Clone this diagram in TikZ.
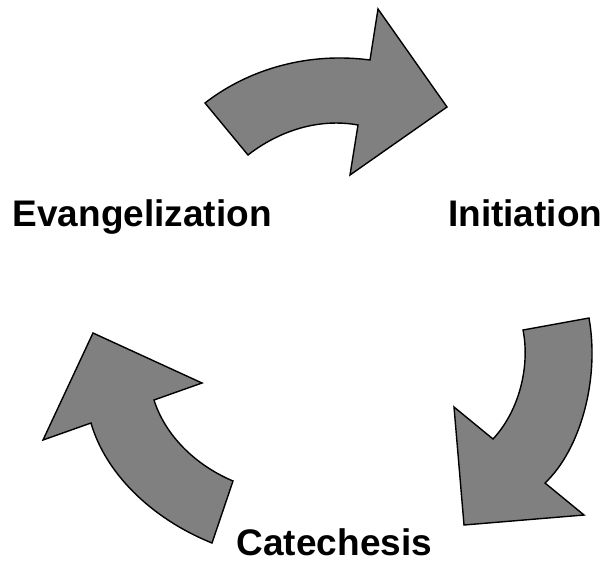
\documentclass[tikz,border=0pt]{standalone}
\usepackage{fontspec}
\setmainfont{Liberation Sans}
\begin{document}
\begin{tikzpicture}[x=1pt,y=-1pt,
  blockarrow/.style={fill={rgb,255:red,128;green,128;blue,128},draw=black,line width=1.4pt,line join=miter},
  lbl/.style={inner sep=0pt,anchor=base west,text depth=0pt,font=\fontsize{37}{41}\selectfont\bfseries}]
\useasboundingbox (0,0) rectangle (601,560);
% top arrow
\draw[blockarrow] (205,103) .. controls (250,68) and (310,52) .. (370,60) -- (378,9) -- (447,107) -- (350,175) -- (358,125)
  .. controls (320,118) and (280,130) .. (248,155) -- cycle;
% right arrow
\draw[blockarrow] (589,318) -- (523,330) .. controls (530,365) and (520,410) .. (493,439) -- (454,407) -- (464,525) -- (584,515) -- (545,483)
  .. controls (580,450) and (600,380) .. (589,318) -- cycle;
% left arrow
\draw[blockarrow] (93,333) -- (202,383) -- (154,400) .. controls (165,435) and (195,465) .. (233,481) -- (212,543)
  .. controls (150,518) and (105,472) .. (91,423) -- (43,440) -- cycle;
\node[lbl] (evang) at (12.5,226) {Evangelization};
\node[lbl] (init) at (448,226) {Initiation};
\node[lbl] (cat) at (236.5,555) {Catechesis};
\end{tikzpicture}
\end{document}
